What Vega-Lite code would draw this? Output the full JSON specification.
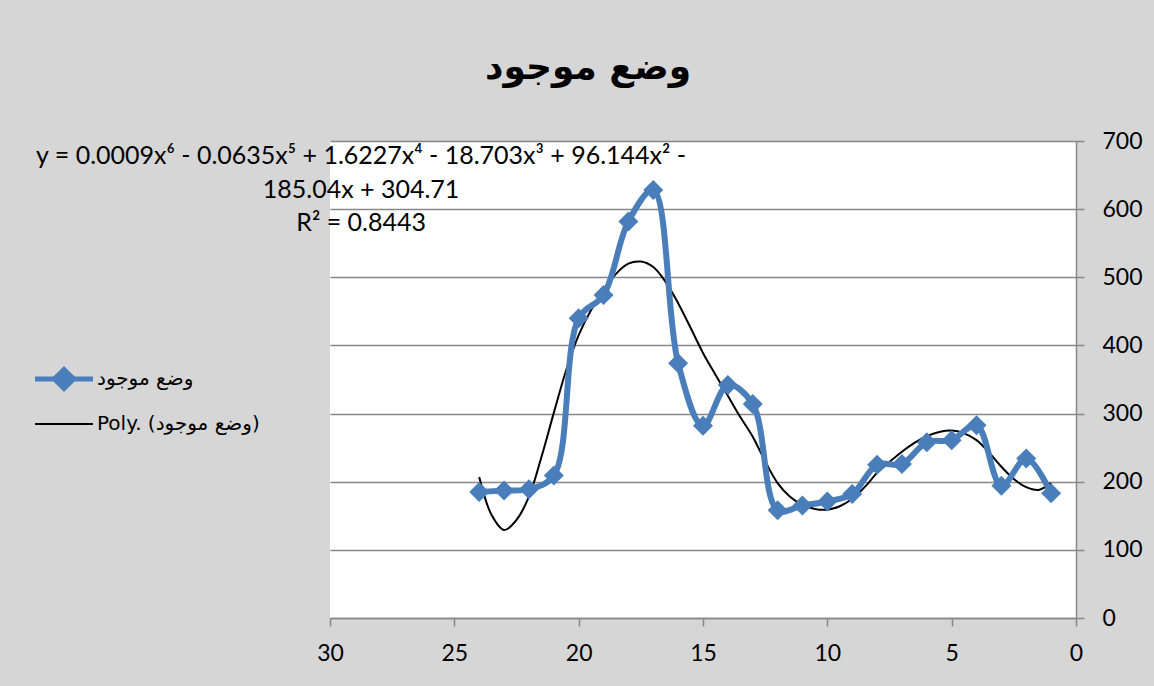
{
  "$schema": "https://vega.github.io/schema/vega-lite/v6.json",
  "width": 746,
  "height": 477,
  "autosize": {"type": "none"},
  "padding": {"left": 330, "top": 141, "right": 78, "bottom": 68},
  "background": "#d6d6d6",
  "config": {"view": {"fill": "white", "stroke": null}, "font": "Lato"},
  "title": {"text": "وضع موجود", "font": "DejaVu Sans", "fontSize": 36, "fontWeight": "bold", "color": "black", "anchor": "middle", "dx": -115, "offset": 7, "baseline": "bottom"},
  "datasets": {
    "series": [
      {"x": 24, "y": 185, "series": "وضع موجود"},
      {"x": 23, "y": 187, "series": "وضع موجود"},
      {"x": 22, "y": 189, "series": "وضع موجود"},
      {"x": 21, "y": 209, "series": "وضع موجود"},
      {"x": 20, "y": 440, "series": "وضع موجود"},
      {"x": 19, "y": 474, "series": "وضع موجود"},
      {"x": 18, "y": 582, "series": "وضع موجود"},
      {"x": 17, "y": 628, "series": "وضع موجود"},
      {"x": 16, "y": 374, "series": "وضع موجود"},
      {"x": 15, "y": 282, "series": "وضع موجود"},
      {"x": 14, "y": 342, "series": "وضع موجود"},
      {"x": 13, "y": 314, "series": "وضع موجود"},
      {"x": 12, "y": 158, "series": "وضع موجود"},
      {"x": 11, "y": 165, "series": "وضع موجود"},
      {"x": 10, "y": 171, "series": "وضع موجود"},
      {"x": 9, "y": 182, "series": "وضع موجود"},
      {"x": 8, "y": 225, "series": "وضع موجود"},
      {"x": 7, "y": 226, "series": "وضع موجود"},
      {"x": 6, "y": 258, "series": "وضع موجود"},
      {"x": 5, "y": 261, "series": "وضع موجود"},
      {"x": 4, "y": 283, "series": "وضع موجود"},
      {"x": 3, "y": 194, "series": "وضع موجود"},
      {"x": 2, "y": 234, "series": "وضع موجود"},
      {"x": 1, "y": 183, "series": "وضع موجود"},
      {"x": 24, "y": 207, "series": "Poly. (وضع موجود)"},
      {"x": 23.5, "y": 151, "series": "Poly. (وضع موجود)"},
      {"x": 23, "y": 129, "series": "Poly. (وضع موجود)"},
      {"x": 22.5, "y": 144, "series": "Poly. (وضع موجود)"},
      {"x": 22, "y": 178, "series": "Poly. (وضع موجود)"},
      {"x": 21.5, "y": 236, "series": "Poly. (وضع موجود)"},
      {"x": 21, "y": 301, "series": "Poly. (وضع موجود)"},
      {"x": 20.5, "y": 364, "series": "Poly. (وضع موجود)"},
      {"x": 20, "y": 415, "series": "Poly. (وضع موجود)"},
      {"x": 19.5, "y": 452, "series": "Poly. (وضع موجود)"},
      {"x": 19, "y": 480, "series": "Poly. (وضع موجود)"},
      {"x": 18.5, "y": 505, "series": "Poly. (وضع موجود)"},
      {"x": 18, "y": 520, "series": "Poly. (وضع موجود)"},
      {"x": 17.5, "y": 523, "series": "Poly. (وضع موجود)"},
      {"x": 17, "y": 515, "series": "Poly. (وضع موجود)"},
      {"x": 16.5, "y": 493, "series": "Poly. (وضع موجود)"},
      {"x": 16, "y": 462, "series": "Poly. (وضع موجود)"},
      {"x": 15.5, "y": 426, "series": "Poly. (وضع موجود)"},
      {"x": 15, "y": 389, "series": "Poly. (وضع موجود)"},
      {"x": 14.5, "y": 357, "series": "Poly. (وضع موجود)"},
      {"x": 14, "y": 326, "series": "Poly. (وضع موجود)"},
      {"x": 13.5, "y": 295, "series": "Poly. (وضع موجود)"},
      {"x": 13, "y": 266, "series": "Poly. (وضع موجود)"},
      {"x": 12.5, "y": 230, "series": "Poly. (وضع موجود)"},
      {"x": 12, "y": 198, "series": "Poly. (وضع موجود)"},
      {"x": 11.5, "y": 178, "series": "Poly. (وضع موجود)"},
      {"x": 11, "y": 166, "series": "Poly. (وضع موجود)"},
      {"x": 10.5, "y": 160, "series": "Poly. (وضع موجود)"},
      {"x": 10, "y": 159, "series": "Poly. (وضع موجود)"},
      {"x": 9.5, "y": 164, "series": "Poly. (وضع موجود)"},
      {"x": 9, "y": 175, "series": "Poly. (وضع موجود)"},
      {"x": 8.5, "y": 192, "series": "Poly. (وضع موجود)"},
      {"x": 8, "y": 213, "series": "Poly. (وضع موجود)"},
      {"x": 7.5, "y": 229, "series": "Poly. (وضع موجود)"},
      {"x": 7, "y": 244, "series": "Poly. (وضع موجود)"},
      {"x": 6.5, "y": 257, "series": "Poly. (وضع موجود)"},
      {"x": 6, "y": 267, "series": "Poly. (وضع موجود)"},
      {"x": 5.5, "y": 273, "series": "Poly. (وضع موجود)"},
      {"x": 5, "y": 275, "series": "Poly. (وضع موجود)"},
      {"x": 4.5, "y": 271, "series": "Poly. (وضع موجود)"},
      {"x": 4, "y": 261, "series": "Poly. (وضع موجود)"},
      {"x": 3.5, "y": 243, "series": "Poly. (وضع موجود)"},
      {"x": 3, "y": 222, "series": "Poly. (وضع موجود)"},
      {"x": 2.5, "y": 204, "series": "Poly. (وضع موجود)"},
      {"x": 2, "y": 192, "series": "Poly. (وضع موجود)"},
      {"x": 1.5, "y": 188, "series": "Poly. (وضع موجود)"},
      {"x": 1, "y": 198, "series": "Poly. (وضع موجود)"}
    ],
    "eq": [
      {"x": 28.75, "y": 678, "label": "y = 0.0009x⁶ - 0.0635x⁵ + 1.6227x⁴ - 18.703x³ + 96.144x² -"},
      {"x": 28.75, "y": 628, "label": "185.04x + 304.71"},
      {"x": 28.75, "y": 580, "label": "R² = 0.8443"}
    ]
  },
  "layer": [
    {
      "data": {"name": "series"},
      "transform": [{"filter": "datum.series === 'Poly. (وضع موجود)'"}],
      "mark": {"type": "line", "interpolate": "catmull-rom", "strokeWidth": 2},
      "encoding": {
        "x": {"field": "x", "type": "quantitative", "scale": {"domain": [0, 30], "reverse": true, "nice": false},
          "axis": {"values": [0, 5, 10, 15, 20, 25, 30], "grid": false, "title": null, "domainColor": "#878787", "domainWidth": 1.5, "tickColor": "#878787", "tickWidth": 1.5, "tickSize": 8, "labelFont": "Lato", "labelFontSize": 23, "labelColor": "black", "labelPadding": 16, "labelFlush": false}},
        "y": {"field": "y", "type": "quantitative", "scale": {"domain": [0, 700], "nice": false},
          "axis": {"orient": "right", "values": [0, 100, 200, 300, 400, 500, 600, 700], "grid": true, "gridColor": "#878787", "gridWidth": 1.5, "title": null, "domainColor": "#878787", "domainWidth": 1.5, "tickColor": "#878787", "tickWidth": 1.5, "tickSize": 8, "labelFont": "Lato", "labelFontSize": 23, "labelColor": "black", "labelPadding": 18, "labelFlush": false}},
        "color": {"field": "series", "type": "nominal",
          "scale": {"domain": ["وضع موجود", "Poly. (وضع موجود)"], "range": ["#4a7ebb", "#000000"]},
          "legend": {"orient": "none", "legendX": -276, "legendY": 228, "title": null, "padding": 0, "symbolSize": 400, "rowPadding": 15, "labelOffset": 23, "labelLimit": 400, "labelFont": "DejaVu Sans", "labelFontSize": 20, "labelColor": "black",
            "encode": {"symbols": {"update": {
              "shape": {"signal": "datum.value === 'وضع موجود' ? 'M-1,0L1,0M-0.33,0L0,-0.33L0.33,0L0,0.33Z' : 'M-1,0L1,0'"},
              "size": {"value": 3364},
              "strokeWidth": {"signal": "datum.value === 'وضع موجود' ? 5 : 2"},
              "stroke": {"signal": "datum.value === 'وضع موجود' ? '#4a7ebb' : '#000000'"},
              "fill": {"signal": "datum.value === 'وضع موجود' ? '#4a7ebb' : 'transparent'"},
              "opacity": {"value": 1}
            }}}}}
      }
    },
    {
      "data": {"name": "series"},
      "transform": [{"filter": "datum.series === 'وضع موجود'"}],
      "mark": {"type": "line", "interpolate": "catmull-rom", "strokeWidth": 6},
      "encoding": {
        "x": {"field": "x", "type": "quantitative"},
        "y": {"field": "y", "type": "quantitative"},
        "color": {"field": "series", "type": "nominal"}
      }
    },
    {
      "data": {"name": "series"},
      "transform": [{"filter": "datum.series === 'وضع موجود'"}],
      "mark": {"type": "point", "shape": "diamond", "filled": true, "size": 400, "opacity": 1, "color": "#4a7ebb"},
      "encoding": {
        "x": {"field": "x", "type": "quantitative"},
        "y": {"field": "y", "type": "quantitative"}
      }
    },
    {
      "data": {"name": "eq"},
      "mark": {"type": "text", "font": "Lato", "fontSize": 25, "align": "center", "baseline": "middle", "color": "black"},
      "encoding": {
        "x": {"field": "x", "type": "quantitative"},
        "y": {"field": "y", "type": "quantitative"},
        "text": {"field": "label"}
      }
    }
  ]
}
